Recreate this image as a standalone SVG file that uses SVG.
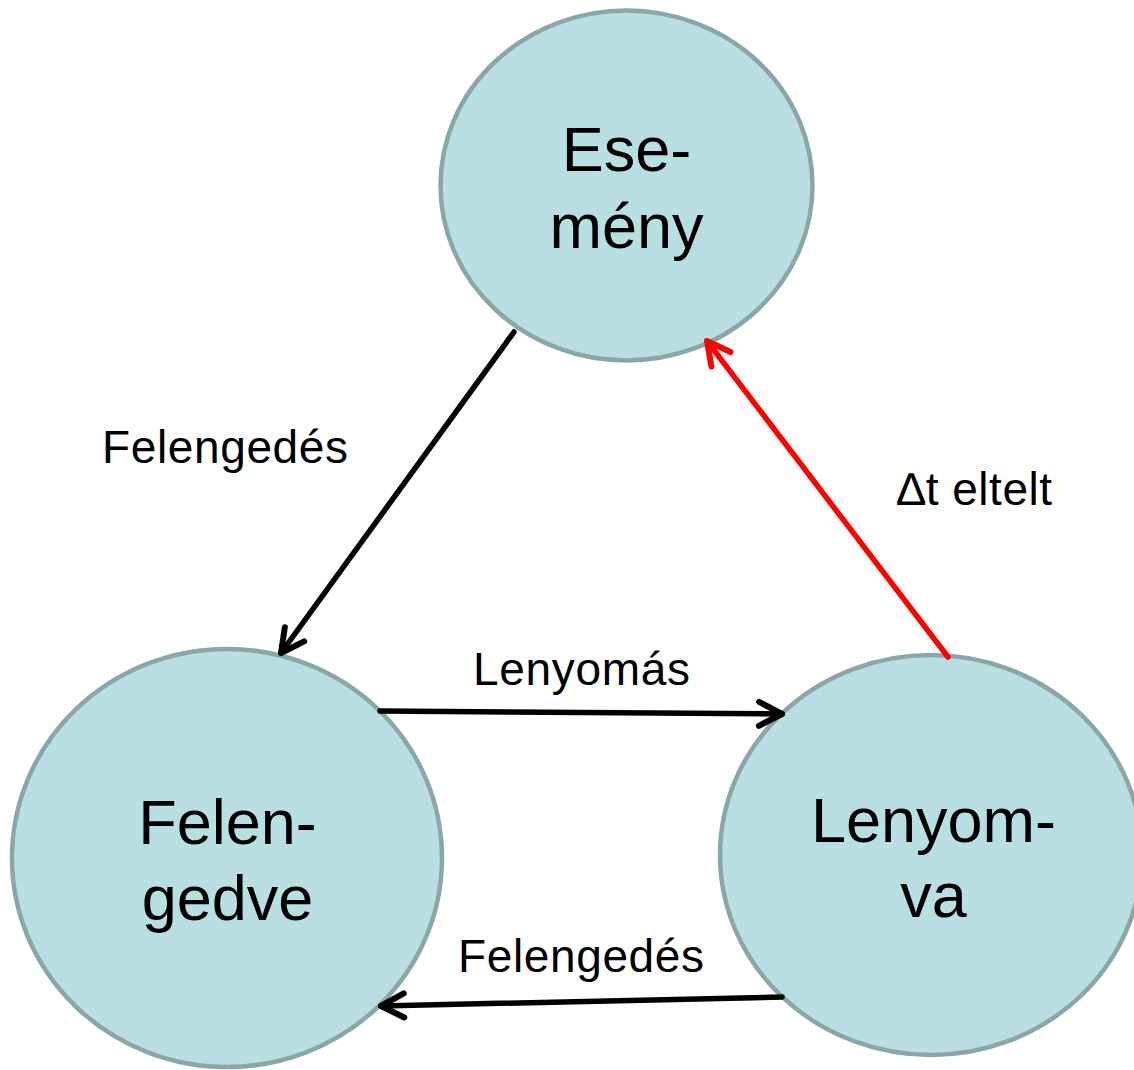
<svg xmlns="http://www.w3.org/2000/svg" width="1134" height="1070" viewBox="0 0 1134 1070">
<style>
.node{fill:#b9dfe2;stroke:#8aa6a8;stroke-width:4.5}
.big{font-family:"Liberation Sans",Arial,sans-serif;font-size:63px;fill:#000;text-anchor:middle}
.lbl{font-family:"Liberation Sans",Arial,sans-serif;font-size:46px;fill:#000;text-anchor:middle}
.edge{fill:none;stroke-width:5.5;stroke-linecap:round}
</style>
<defs>
<marker id="ah" markerUnits="userSpaceOnUse" markerWidth="40" markerHeight="40" refX="0" refY="0" viewBox="-30 -20 40 40" orient="auto" overflow="visible">
<path d="M-23,-12 L0,0 L-23,12" fill="none" stroke="#000" stroke-width="6" stroke-linecap="round" stroke-linejoin="round"/>
</marker>
<marker id="ahr" markerUnits="userSpaceOnUse" markerWidth="40" markerHeight="40" refX="0" refY="0" viewBox="-30 -20 40 40" orient="auto" overflow="visible">
<path d="M-23,-12 L0,0 L-23,12" fill="none" stroke="#ff0000" stroke-width="6" stroke-linecap="round" stroke-linejoin="round"/>
</marker>
</defs>
<rect width="1134" height="1070" fill="#fff"/>
<g id="esemeny">
<ellipse class="node" cx="626.5" cy="185.5" rx="186" ry="175"/>
<text class="big" x="626.5" y="171">Ese-</text>
<text class="big" x="626.5" y="248">mény</text>
</g>
<g id="felengedve">
<ellipse class="node" cx="227" cy="858" rx="215" ry="209"/>
<text class="big" x="227.5" y="844">Felen-</text>
<text class="big" x="227.5" y="920">gedve</text>
</g>
<g id="lenyomva">
<ellipse class="node" cx="931" cy="855" rx="211" ry="200"/>
<text class="big" x="933.5" y="842">Lenyom-</text>
<text class="big" x="933.5" y="917">va</text>
</g>
<g id="connectors">
<line class="edge" stroke="#000" x1="514" y1="332" x2="281" y2="653" marker-end="url(#ah)"/>
<line class="edge" stroke="#000" x1="380" y1="711" x2="782" y2="714" marker-end="url(#ah)"/>
<line class="edge" stroke="#000" x1="782" y1="997" x2="381" y2="1006" marker-end="url(#ah)"/>
<line class="edge" stroke="#ff0000" x1="948" y1="657" x2="707" y2="341" marker-end="url(#ahr)"/>
<text class="lbl" x="225" y="463" textLength="246" lengthAdjust="spacing">Felengedés</text>
<text class="lbl" x="581.5" y="685" textLength="217" lengthAdjust="spacing">Lenyomás</text>
<text class="lbl" x="581" y="972" textLength="246" lengthAdjust="spacing">Felengedés</text>
<text class="lbl" x="974.5" y="505" textLength="155" lengthAdjust="spacing">∆t eltelt</text>
</g>
</svg>
